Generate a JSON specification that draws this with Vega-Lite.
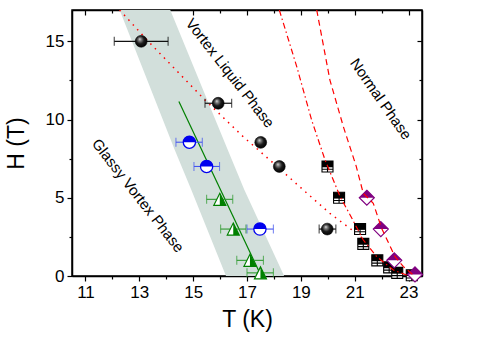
{
  "$schema": "https://vega.github.io/schema/vega-lite/v6.json",
  "width": 350,
  "height": 266,
  "autosize": {"type": "none"},
  "padding": {"left": 72, "top": 10, "right": 56, "bottom": 62},
  "background": "white",
  "config": {
    "view": {"stroke": "black", "strokeWidth": 1.5},
    "axis": {
      "labelFont": "Liberation Sans", "titleFont": "Liberation Sans",
      "labelFontSize": 17, "titleFontSize": 23, "titleFontWeight": "normal",
      "labelColor": "black", "titleColor": "black",
      "domainColor": "black", "domainWidth": 1.5,
      "tickColor": "black", "tickWidth": 1.2, "grid": false,
      "labelFlush": false, "labelOverlap": false
    }
  },
  "resolve": {"axis": {"x": "independent", "y": "independent"}},
  "datasets": {
    "band": [
      {"H": 0, "a": 16.22, "b": 18.38},
      {"H": 5.51, "a": 14.93, "b": 16.9},
      {"H": 8.08, "a": 14.31, "b": 16.28},
      {"H": 17, "a": 12.27, "b": 14.15}
    ],
    "dotted": [
      {"T": 12.27, "H": 17}, {"T": 13.33, "H": 15}, {"T": 15.38, "H": 11.35},
      {"T": 16.86, "H": 8.9}, {"T": 17.85, "H": 7.41}, {"T": 19.09, "H": 5.5},
      {"T": 20.08, "H": 4.0}, {"T": 20.82, "H": 3.05}, {"T": 21.3, "H": 2.4}
    ],
    "dashdot": [
      {"T": 18.2, "H": 17}, {"T": 18.85, "H": 13.37}, {"T": 19.4, "H": 9.97},
      {"T": 19.9, "H": 7.41}, {"T": 20.46, "H": 5.07}, {"T": 20.83, "H": 3.9},
      {"T": 21.32, "H": 2.3}, {"T": 21.82, "H": 1.23}, {"T": 22.44, "H": 0.38},
      {"T": 22.93, "H": 0.06}
    ],
    "dashed": [
      {"T": 19.59, "H": 17}, {"T": 20.08, "H": 12.52}, {"T": 20.58, "H": 9.54},
      {"T": 21.05, "H": 7.05}, {"T": 21.32, "H": 5.28}, {"T": 21.69, "H": 4.65},
      {"T": 22.0, "H": 3.05}, {"T": 22.5, "H": 1.23}, {"T": 22.81, "H": 0.6},
      {"T": 23.18, "H": 0.06}
    ],
    "greenfit": [{"T": 14.47, "H": 11.15}, {"T": 17.5, "H": 0.1}],
    "sphere": [
      {"T": 13.07, "H": 15.0}, {"T": 15.93, "H": 11.04}, {"T": 17.51, "H": 8.54},
      {"T": 18.2, "H": 7.0}, {"T": 19.98, "H": 3.0}
    ],
    "sphereErr": [
      {"H": 15.0, "lo": 12.07, "hi": 14.07},
      {"H": 11.04, "lo": 15.44, "hi": 16.43},
      {"H": 3.0, "lo": 19.68, "hi": 20.3}
    ],
    "blue": [
      {"T": 14.86, "H": 8.55, "lo": 14.36, "hi": 15.34},
      {"T": 15.5, "H": 7.0, "lo": 15.03, "hi": 15.98},
      {"T": 17.48, "H": 3.0, "lo": 17.0, "hi": 17.98}
    ],
    "green": [
      {"T": 15.99, "H": 4.9, "lo": 15.5, "hi": 16.47},
      {"T": 16.49, "H": 3.0, "lo": 16.02, "hi": 16.96},
      {"T": 17.11, "H": 1.0, "lo": 16.62, "hi": 17.61},
      {"T": 17.5, "H": 0.2, "lo": 17.0, "hi": 17.98}
    ],
    "square": [
      {"T": 19.99, "H": 7.0}, {"T": 20.42, "H": 5.0}, {"T": 21.2, "H": 3.0},
      {"T": 21.32, "H": 2.05}, {"T": 21.84, "H": 1.0}, {"T": 22.28, "H": 0.55},
      {"T": 22.58, "H": 0.2}, {"T": 23.12, "H": 0.05}
    ],
    "diamond": [
      {"T": 21.45, "H": 5.0}, {"T": 21.97, "H": 3.0}, {"T": 22.47, "H": 1.0}, {"T": 23.24, "H": 0.1}
    ],
    "lblVortex": [{"T": 16.37, "H": 12.97, "label": "Vortex Liquid Phase"}],
    "lblNormal": [{"T": 21.97, "H": 11.31, "label": "Normal Phase"}],
    "lblGlassy": [{"T": 12.95, "H": 5.14, "label": "Glassy Vortex Phase"}]
  },
  "layer": [
    {
      "data": {"name": "band"},
      "mark": {"type": "area", "orient": "horizontal", "color": "#d2dfdb", "opacity": 1, "clip": true},
      "encoding": {
        "y": {"field": "H", "type": "quantitative", "scale": {"domain": [0, 17], "nice": false, "zero": false},
          "axis": {"orient": "left", "title": "H (T)",
            "values": [0, 2.5, 5, 7.5, 10, 12.5, 15],
            "labelExpr": "datum.value % 5 === 0 ? datum.label : ''",
            "tickSize": {"condition": {"test": "datum.value % 5 === 0", "value": 5}, "value": 3},
            "labelPadding": 3, "titlePadding": 17}},
        "x": {"field": "a", "type": "quantitative", "scale": {"domain": [10.5, 23.5], "nice": false, "zero": false},
          "axis": {"orient": "bottom", "title": "T (K)",
            "values": [11, 12, 13, 14, 15, 16, 17, 18, 19, 20, 21, 22, 23],
            "labelExpr": "datum.value % 2 === 1 ? datum.label : ''",
            "tickSize": {"condition": {"test": "datum.value % 2 === 1", "value": 5}, "value": 3},
            "labelPadding": 3, "titlePadding": 8}},
        "x2": {"field": "b"}
      }
    },
    {
      "data": {"name": "dotted"},
      "mark": {"type": "line", "color": "#ff0000", "strokeWidth": 1.5, "strokeDash": [1.5, 5], "clip": true},
      "encoding": {
        "x": {"field": "T", "type": "quantitative", "axis": null},
        "y": {"field": "H", "type": "quantitative", "axis": null}
      }
    },
    {
      "data": {"name": "greenfit"},
      "mark": {"type": "line", "color": "#008000", "strokeWidth": 1.2, "clip": true},
      "encoding": {
        "x": {"field": "T", "type": "quantitative",
          "axis": {"orient": "top", "title": null, "labels": false,
            "values": [11, 12, 13, 14, 15, 16, 17, 18, 19, 20, 21, 22, 23],
            "tickSize": {"condition": {"test": "datum.value % 2 === 1", "value": -5}, "value": -3}}},
        "y": {"field": "H", "type": "quantitative",
          "axis": {"orient": "right", "title": null, "labels": false,
            "values": [0, 2.5, 5, 7.5, 10, 12.5, 15],
            "tickSize": {"condition": {"test": "datum.value % 5 === 0", "value": -5}, "value": -3}}}
      }
    },
    {
      "data": {"name": "sphereErr"},
      "mark": {"type": "rule", "color": "#111111", "strokeWidth": 1.2},
      "encoding": {
        "x": {"field": "lo", "type": "quantitative", "axis": null},
        "x2": {"field": "hi"},
        "y": {"field": "H", "type": "quantitative", "axis": null}
      }
    },
    {
      "data": {"name": "sphereErr"},
      "mark": {"type": "tick", "orient": "vertical", "color": "#111111", "thickness": 1.2, "size": 9},
      "encoding": {
        "x": {"field": "lo", "type": "quantitative", "axis": null},
        "y": {"field": "H", "type": "quantitative", "axis": null}
      }
    },
    {
      "data": {"name": "sphereErr"},
      "mark": {"type": "tick", "orient": "vertical", "color": "#111111", "thickness": 1.2, "size": 9},
      "encoding": {
        "x": {"field": "hi", "type": "quantitative", "axis": null},
        "y": {"field": "H", "type": "quantitative", "axis": null}
      }
    },
    {
      "data": {"name": "blue"},
      "mark": {"type": "rule", "color": "#4455ee", "strokeWidth": 1.1},
      "encoding": {
        "x": {"field": "lo", "type": "quantitative", "axis": null},
        "x2": {"field": "hi"},
        "y": {"field": "H", "type": "quantitative", "axis": null}
      }
    },
    {
      "data": {"name": "blue"},
      "mark": {"type": "tick", "orient": "vertical", "color": "#4455ee", "thickness": 1.1, "size": 9},
      "encoding": {
        "x": {"field": "lo", "type": "quantitative", "axis": null},
        "y": {"field": "H", "type": "quantitative", "axis": null}
      }
    },
    {
      "data": {"name": "blue"},
      "mark": {"type": "tick", "orient": "vertical", "color": "#4455ee", "thickness": 1.1, "size": 9},
      "encoding": {
        "x": {"field": "hi", "type": "quantitative", "axis": null},
        "y": {"field": "H", "type": "quantitative", "axis": null}
      }
    },
    {
      "data": {"name": "green"},
      "mark": {"type": "rule", "color": "#2e9a2e", "strokeWidth": 1.1},
      "encoding": {
        "x": {"field": "lo", "type": "quantitative", "axis": null},
        "x2": {"field": "hi"},
        "y": {"field": "H", "type": "quantitative", "axis": null}
      }
    },
    {
      "data": {"name": "green"},
      "mark": {"type": "tick", "orient": "vertical", "color": "#2e9a2e", "thickness": 1.1, "size": 9},
      "encoding": {
        "x": {"field": "lo", "type": "quantitative", "axis": null},
        "y": {"field": "H", "type": "quantitative", "axis": null}
      }
    },
    {
      "data": {"name": "green"},
      "mark": {"type": "tick", "orient": "vertical", "color": "#2e9a2e", "thickness": 1.1, "size": 9},
      "encoding": {
        "x": {"field": "hi", "type": "quantitative", "axis": null},
        "y": {"field": "H", "type": "quantitative", "axis": null}
      }
    },
    {
      "data": {"name": "sphere"},
      "mark": {"type": "point", "shape": "circle", "size": 140, "filled": true, "opacity": 1,
        "fill": {"gradient": "radial", "x1": 0.38, "y1": 0.32, "r1": 0, "x2": 0.45, "y2": 0.45, "r2": 0.6,
          "stops": [{"offset": 0, "color": "#f4f4f4"}, {"offset": 0.18, "color": "#8a8a8a"}, {"offset": 0.55, "color": "#1a1a1a"}, {"offset": 1, "color": "#000000"}]},
        "stroke": "#000000", "strokeWidth": 0.6},
      "encoding": {
        "x": {"field": "T", "type": "quantitative", "axis": null},
        "y": {"field": "H", "type": "quantitative", "axis": null}
      }
    },
    {
      "data": {"name": "blue"},
      "mark": {"type": "point", "shape": "circle", "size": 150, "filled": false, "fill": "white", "fillOpacity": 1, "stroke": "#0000ee", "strokeWidth": 1.3, "opacity": 1},
      "encoding": {
        "x": {"field": "T", "type": "quantitative", "axis": null},
        "y": {"field": "H", "type": "quantitative", "axis": null}
      }
    },
    {
      "data": {"name": "blue"},
      "mark": {"type": "point", "shape": "M -1 0 A 1 1 0 0 1 1 0 Z", "size": 150, "filled": true, "color": "#0000ee", "opacity": 1},
      "encoding": {
        "x": {"field": "T", "type": "quantitative", "axis": null},
        "y": {"field": "H", "type": "quantitative", "axis": null}
      }
    },
    {
      "data": {"name": "green"},
      "mark": {"type": "point", "shape": "M 0 -1 L 1 1 L -1 1 Z", "size": 144, "filled": false, "fill": "white", "fillOpacity": 1, "stroke": "#008000", "strokeWidth": 1.2, "opacity": 1},
      "encoding": {
        "x": {"field": "T", "type": "quantitative", "axis": null},
        "y": {"field": "H", "type": "quantitative", "axis": null}
      }
    },
    {
      "data": {"name": "green"},
      "mark": {"type": "point", "shape": "M 0 -1 L 1 1 L 0 1 Z", "size": 144, "filled": true, "color": "#008000", "opacity": 1},
      "encoding": {
        "x": {"field": "T", "type": "quantitative", "axis": null},
        "y": {"field": "H", "type": "quantitative", "axis": null}
      }
    },
    {
      "data": {"name": "square"},
      "mark": {"type": "point", "shape": "M -1 -1 L 1 -1 L 1 1 L -1 1 Z M 0 0 L 0 1 M -1 0.5 L 1 0.5", "size": 121, "filled": false, "fill": "white", "fillOpacity": 1, "stroke": "#000000", "strokeWidth": 1.1, "opacity": 1},
      "encoding": {
        "x": {"field": "T", "type": "quantitative", "axis": null},
        "y": {"field": "H", "type": "quantitative", "axis": null}
      }
    },
    {
      "data": {"name": "square"},
      "mark": {"type": "point", "shape": "M -1 -1 L 1 -1 L 1 0.15 L -1 0.15 Z", "size": 121, "filled": true, "color": "#000000", "opacity": 1},
      "encoding": {
        "x": {"field": "T", "type": "quantitative", "axis": null},
        "y": {"field": "H", "type": "quantitative", "axis": null}
      }
    },
    {
      "data": {"name": "diamond"},
      "mark": {"type": "point", "shape": "M 0 -1 L 1 0 L 0 1 L -1 0 Z", "size": 225, "filled": false, "fill": "white", "fillOpacity": 1, "stroke": "#800080", "strokeWidth": 1.2, "opacity": 1},
      "encoding": {
        "x": {"field": "T", "type": "quantitative", "axis": null},
        "y": {"field": "H", "type": "quantitative", "axis": null}
      }
    },
    {
      "data": {"name": "diamond"},
      "mark": {"type": "point", "shape": "M -1 0 L 0 -1 L 1 0 Z", "size": 225, "filled": true, "color": "#800080", "opacity": 1},
      "encoding": {
        "x": {"field": "T", "type": "quantitative", "axis": null},
        "y": {"field": "H", "type": "quantitative", "axis": null}
      }
    },
    {
      "data": {"name": "dashdot"},
      "mark": {"type": "line", "color": "#ff0000", "strokeWidth": 1.2, "strokeDash": [6, 3, 1.5, 3], "clip": true},
      "encoding": {
        "x": {"field": "T", "type": "quantitative", "axis": null},
        "y": {"field": "H", "type": "quantitative", "axis": null}
      }
    },
    {
      "data": {"name": "dashed"},
      "mark": {"type": "line", "color": "#ff0000", "strokeWidth": 1.2, "strokeDash": [6, 4], "clip": true},
      "encoding": {
        "x": {"field": "T", "type": "quantitative", "axis": null},
        "y": {"field": "H", "type": "quantitative", "axis": null}
      }
    },
    {
      "data": {"name": "lblVortex"},
      "mark": {"type": "text", "angle": 52, "font": "Liberation Sans", "fontSize": 15, "color": "black", "align": "center", "baseline": "middle"},
      "encoding": {
        "x": {"field": "T", "type": "quantitative", "axis": null},
        "y": {"field": "H", "type": "quantitative", "axis": null},
        "text": {"field": "label"}
      }
    },
    {
      "data": {"name": "lblNormal"},
      "mark": {"type": "text", "angle": 55, "font": "Liberation Sans", "fontSize": 15, "color": "black", "align": "center", "baseline": "middle"},
      "encoding": {
        "x": {"field": "T", "type": "quantitative", "axis": null},
        "y": {"field": "H", "type": "quantitative", "axis": null},
        "text": {"field": "label"}
      }
    },
    {
      "data": {"name": "lblGlassy"},
      "mark": {"type": "text", "angle": 52, "font": "Liberation Sans", "fontSize": 15, "color": "black", "align": "center", "baseline": "middle"},
      "encoding": {
        "x": {"field": "T", "type": "quantitative", "axis": null},
        "y": {"field": "H", "type": "quantitative", "axis": null},
        "text": {"field": "label"}
      }
    }
  ]
}
